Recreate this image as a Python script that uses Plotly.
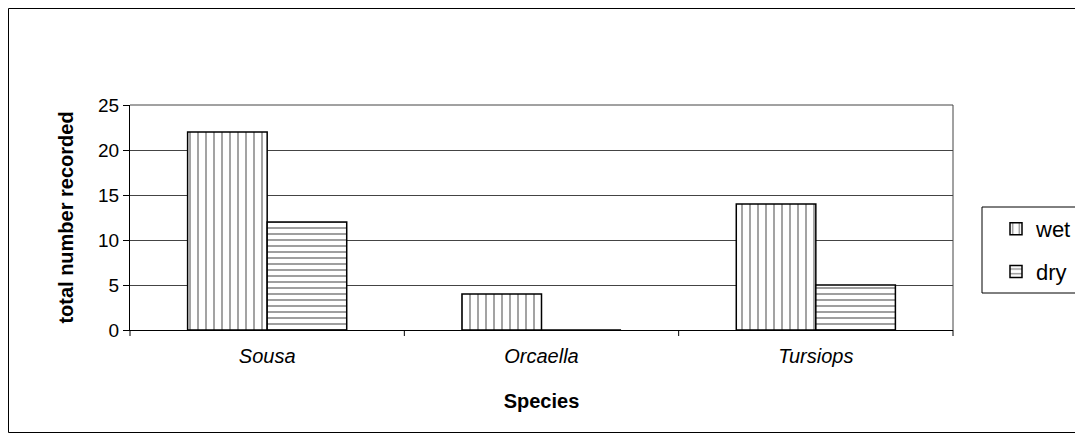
import plotly.graph_objects as go

species = ["Sousa", "Orcaella", "Tursiops"]
wet = [22, 4, 14]
dry = [12, 0, 5]
y_ticks = [0, 5, 10, 15, 20, 25]

fig = go.Figure()
fig.add_trace(go.Bar(
    name="wet", x=species, y=wet, legendgroup="a",
    marker=dict(color="white", line=dict(color="black", width=1.5),
                pattern=dict(shape="|", fgcolor="black", bgcolor="white", size=8, solidity=0.18)),
))
fig.add_trace(go.Bar(
    name="dry", x=species, y=dry, legendgroup="b",
    marker=dict(color="white", line=dict(color="black", width=1.5),
                pattern=dict(shape="-", fgcolor="black", bgcolor="white", size=6, solidity=0.25)),
))

# page has an 8px body margin; figure coordinates are page coordinates minus 8
W, H = 1075, 425
L, R, T, B = 122, 945, 97, 322
pw, ph = R - L, B - T

def px(x):
    return (x - L) / pw

def py(y):
    return (B - y) / ph

fig.update_layout(
    width=W, height=H,
    margin=dict(l=L, r=W - R, t=T, b=H - B, autoexpand=False),
    paper_bgcolor="white", plot_bgcolor="white",
    barmode="group", bargap=0.42, bargroupgap=0,
    font=dict(family="Liberation Sans, Arial, sans-serif", size=19, color="black"),
    showlegend=True,
    legend=dict(x=px(988), y=py(200), xanchor="left", yanchor="top",
                borderwidth=0, bgcolor="rgba(0,0,0,0)",
                font=dict(size=22), traceorder="grouped", tracegroupgap=11,
                itemwidth=30),
    xaxis=dict(
        title=dict(text="<b>Species</b>", font=dict(size=20), standoff=27),
        tickfont=dict(size=20),
        ticklabelstandoff=8,
        ticktext=["<i>%s</i>" % s for s in species], tickvals=species,
        showline=True, linecolor="black", linewidth=1,
        ticks="", showgrid=False,
    ),
    yaxis=dict(
        title=dict(text="<b>total number recorded</b>", font=dict(size=20), standoff=19),
        range=[0, 25], tickvals=y_ticks, tickfont=dict(size=19),
        showline=True, linecolor="black", linewidth=1,
        ticks="outside", ticklen=6, tickcolor="black",
        showgrid=True, gridcolor="#444444", gridwidth=1,
        mirror=False,
    ),
    shapes=[
        # outer frame (right edge lies beyond the visible page)
        dict(type="rect", xref="paper", yref="paper",
             x0=px(0.5), x1=px(1090), y0=py(424.5), y1=py(0.5),
             line=dict(color="black", width=1), layer="below"),
        # legend box (extends beyond the right edge)
        dict(type="rect", xref="paper", yref="paper",
             x0=px(974), x1=px(1090), y0=py(285), y1=py(199),
             line=dict(color="black", width=1), fillcolor="white", layer="below"),
        dict(type="line", xref="paper", yref="paper", x0=1, x1=1, y0=0, y1=1,
             line=dict(color="#444444", width=1)),
        dict(type="line", xref="paper", yref="paper", x0=0, x1=1, y0=1, y1=1,
             line=dict(color="#444444", width=1)),
    ] + [
        dict(type="line", xref="paper", yref="paper", x0=i / 3, x1=i / 3, y0=0, y1=-6 / ph,
             line=dict(color="black", width=1)) for i in range(4)
    ],
)

fig.write_html("out.html")
